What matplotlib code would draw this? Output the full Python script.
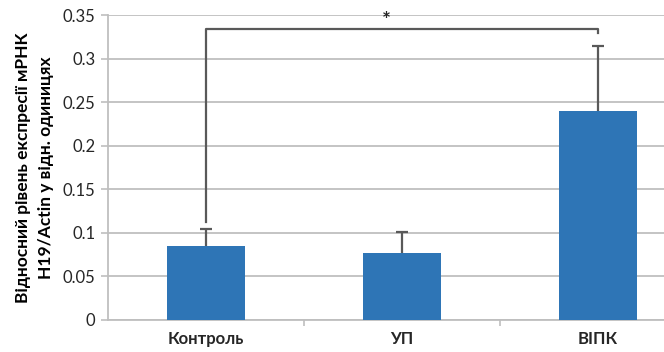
import numpy as np
import matplotlib
matplotlib.use("Agg")
import matplotlib.pyplot as plt

plt.rcParams.update({
    "font.family": ["Lato", "DejaVu Sans"],
    "font.size": 12,
    "text.color": "#262626",
    "xtick.color": "#262626",
    "ytick.color": "#262626",
})

# data
groups = ["Контроль", "УП", "ВІПК"]
means = [0.085, 0.077, 0.240]
err_up = [0.020, 0.024, 0.074]
y_ticks = [0, 0.05, 0.1, 0.15, 0.2, 0.25, 0.3, 0.35]
y_tick_labels = ["0", "0.05", "0.1", "0.15", "0.2", "0.25", "0.3", "0.35"]
bracket_y = 0.3336
bracket_left_bottom = 0.113
bracket_right_bottom = 0.329

BAR_COLOR = "#2E75B6"
ERR_COLOR = "#595959"
GRID_COLOR = "#BFBFBF"

fig = plt.figure(figsize=(6.64, 3.52), dpi=100)
ax = fig.add_axes([108 / 664, 1 - 320 / 352, 1 - 108 / 664, (320 - 15) / 352])

x = np.arange(len(groups))
ax.bar(x, means, width=0.40, color=BAR_COLOR, zorder=3)
# symmetric error bars drawn under the bars, so only the upper half shows
ax.errorbar(x, means, yerr=err_up, fmt="none",
            ecolor=ERR_COLOR, elinewidth=1.6, capsize=4, capthick=1.6, zorder=2.5)

# significance bracket
ax.plot([0, 0, 2, 2],
        [bracket_left_bottom, bracket_y, bracket_y, bracket_right_bottom],
        color=ERR_COLOR, lw=1.6, zorder=4, solid_joinstyle="round")
ax.text(0.92, bracket_y - 0.002, "*", ha="center", va="bottom",
        fontsize=15, fontweight="bold", color="#262626")

ax.set_ylim(0, 0.35)
ax.set_xlim(-0.5, -0.5 + (664 - 108) / 196)
ax.set_yticks(y_ticks)
ax.set_yticklabels(y_tick_labels)
ax.set_xticks(x)
ax.set_xticklabels(groups, fontweight="bold")
ax.set_xticks([0.5, 1.5], minor=True)
ax.tick_params(axis="x", which="major", length=0, pad=8)
ax.tick_params(axis="x", which="minor", length=4, color=GRID_COLOR, width=1.2)
ax.tick_params(axis="y", length=5, color=GRID_COLOR, width=1.2, pad=4)

ax.yaxis.grid(True, color=GRID_COLOR, lw=1.3, zorder=0)
ax.set_axisbelow(True)
for side in ("top", "right"):
    ax.spines[side].set_visible(False)
for side in ("left", "bottom"):
    ax.spines[side].set_color(GRID_COLOR)
    ax.spines[side].set_linewidth(1.3)

ax.set_ylabel("Відносний рівень експресії мРНК\nН19/Actin у відн. одиницях",
              fontsize=12.5, fontweight="bold", linespacing=1.55, labelpad=6)

fig.savefig("out.png", dpi=100)
